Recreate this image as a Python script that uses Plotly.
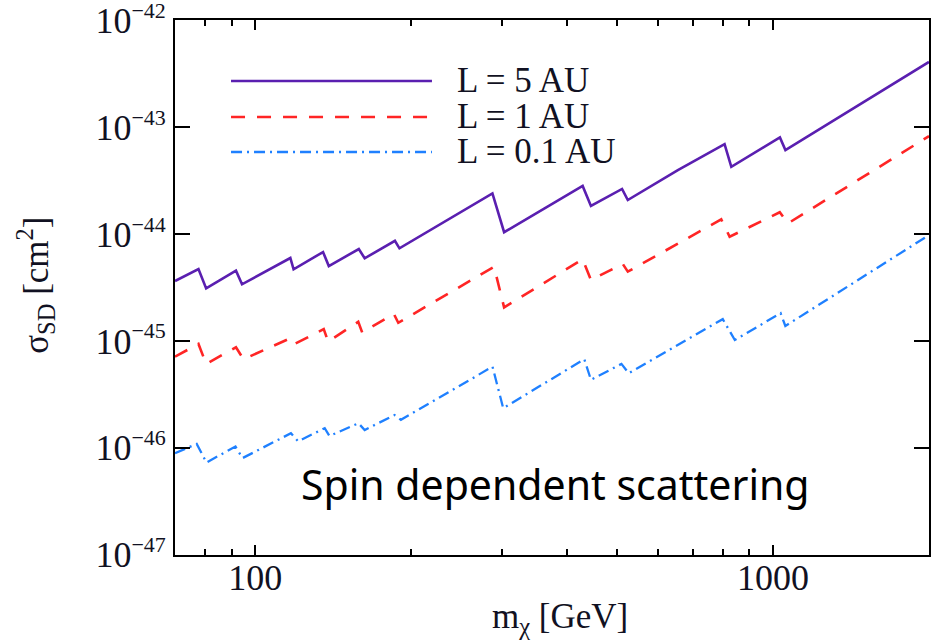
import numpy as np
import plotly.graph_objects as go

# Dark-matter mass [GeV] and spin-dependent cross-section limits [cm^2]
mass_5au = [70.0, 77.7, 80.4, 91.8, 94.3, 116.9, 118.6, 135.2, 138.7, 158.5, 162.7,
            186.1, 189.9, 287.1, 302.4, 428.8, 444.9, 510.9, 524.1, 654.8, 805.9,
            830.4, 1030.8, 1056.3, 2000.0]
sigma_5au = [3.64e-45, 4.71e-45, 3.10e-45, 4.54e-45, 3.39e-45, 5.97e-45, 4.68e-45,
             6.79e-45, 5.02e-45, 7.24e-45, 5.93e-45, 8.65e-45, 7.35e-45, 2.40e-44,
             1.04e-44, 2.82e-44, 1.83e-44, 2.64e-44, 2.08e-44, 3.96e-44, 6.93e-44,
             4.26e-44, 8.02e-44, 6.10e-44, 4.07e-43]

mass_1au = [70.0, 77.7, 80.4, 91.8, 94.9, 116.9, 119.2, 135.6, 138.3, 158.1, 160.9,
            185.2, 188.9, 289.2, 302.4, 428.8, 444.9, 512.5, 524.1, 654.8, 794.1,
            824.2, 1030.0, 1069.0, 2000.0]
sigma_1au = [7.13e-46, 9.38e-46, 6.10e-46, 8.73e-46, 6.75e-46, 1.06e-45, 9.38e-46,
             1.29e-45, 9.86e-46, 1.51e-45, 1.20e-45, 1.79e-45, 1.48e-45, 4.94e-45,
             2.06e-45, 5.81e-45, 3.72e-45, 5.25e-45, 4.45e-45, 8.07e-45, 1.37e-44,
             9.44e-45, 1.60e-44, 1.26e-44, 8.24e-44]

mass_01au = [70.0, 77.1, 80.5, 91.6, 94.5, 117.2, 121.0, 136.2, 139.1, 158.2, 162.7,
             185.8, 191.1, 287.2, 301.2, 432.0, 444.9, 509.5, 526.1, 799.4, 843.5,
             1034.0, 1056.0, 2000.0]
sigma_01au = [8.91e-47, 1.09e-46, 7.29e-47, 1.03e-46, 8.02e-47, 1.37e-46, 1.15e-46,
              1.53e-46, 1.29e-46, 1.70e-46, 1.47e-46, 2.03e-46, 1.83e-46, 5.75e-46,
              2.35e-46, 6.75e-46, 4.33e-46, 6.10e-46, 4.99e-46, 1.60e-45, 1.02e-45,
              1.82e-45, 1.38e-45, 9.79e-45]

series_names = ["L = 5 AU", "L = 1 AU", "L = 0.1 AU"]

y_tickvals = [1e-47, 1e-46, 1e-45, 1e-44, 1e-43, 1e-42]
y_exponents = ["\u221247", "\u221246", "\u221245", "\u221244", "\u221243", "\u221242"]
y_ticktext = ["10<sup><span style='font-size:22px'>%s</span></sup>" % e for e in y_exponents]
x_tickvals = [100, 1000]
x_ticktext = ["100", "1000"]
x_minor = [80, 90, 200, 300, 400, 500, 600, 700, 800, 900]

serif = "Liberation Serif"
ink = "#111122"

styles = [
    dict(color="#5a1fb0", width=2.6, dash="solid"),
    dict(color="#ff2525", width=2.6, dash="14px,12px"),
    dict(color="#1f80ff", width=2.3, dash="11px,5px,2px,5px"),
]
data = [(mass_5au, sigma_5au), (mass_1au, sigma_1au), (mass_01au, sigma_01au)]

fig = go.Figure()
for (m, s), name, st in zip(data, series_names, styles):
    fig.add_trace(go.Scatter(x=m, y=s, mode="lines", name=name, line=st,
                             showlegend=False))

# legend drawn as line samples with labels inside the frame
leg_rows = [0.886, 0.8187, 0.7533]
for yy, name, st in zip(leg_rows, series_names, styles):
    fig.add_shape(type="line", xref="paper", yref="paper",
                  x0=0.0743, x1=0.3408, y0=yy, y1=yy, line=st)
    fig.add_annotation(text=name, xref="paper", yref="paper", x=0.3714, y=yy,
                       xanchor="left", yanchor="middle", showarrow=False,
                       font=dict(family=serif, size=35, color=ink))

fig.add_annotation(text="Spin dependent scattering", xref="paper", yref="paper",
                   x=0.505, y=0.133, xanchor="center", yanchor="middle",
                   showarrow=False, font=dict(family="Noto Sans", size=41, color="black"))

# axis titles
fig.add_annotation(text="m<sub>\u03c7</sub> [GeV]", xref="paper", yref="paper",
                   x=0.51, y=-0.118, xanchor="center", yanchor="middle",
                   showarrow=False, font=dict(family=serif, size=35, color=ink))
fig.add_annotation(text="\u03c3<sub>SD</sub> [cm<sup>2</sup>]", xref="paper", yref="paper",
                   x=-0.1844, y=0.505, xanchor="center", yanchor="middle",
                   textangle=-90, showarrow=False,
                   font=dict(family=serif, size=35, color=ink))

fig.update_xaxes(type="log", range=[np.log10(70), np.log10(2000)],
                 tickvals=x_tickvals, ticktext=x_ticktext,
                 ticks="inside", ticklen=10, tickwidth=2, tickcolor="black",
                 minor=dict(tickvals=x_minor, ticks="inside", ticklen=6,
                            tickwidth=2, tickcolor="black", showgrid=False),
                 showline=True, linewidth=2, linecolor="black", mirror="ticks",
                 showgrid=False, zeroline=False, ticklabelstandoff=-10,
                 automargin=False,
                 tickfont=dict(family=serif, size=36, color=ink))
fig.update_yaxes(type="log", range=[-47.002, -41.998],
                 tickvals=y_tickvals, ticktext=y_ticktext,
                 ticks="inside", ticklen=15, tickwidth=2, tickcolor="black",
                 showline=True, linewidth=2, linecolor="black", mirror="ticks",
                 showgrid=False, zeroline=False, ticklabeloverflow="allow",
                 automargin=False,
                 tickfont=dict(family=serif, size=36, color=ink))

fig.update_layout(width=934, height=642,
                  margin=dict(l=175, r=5, t=20, b=87),
                  paper_bgcolor="white", plot_bgcolor="white")

fig.write_html("out.html")
